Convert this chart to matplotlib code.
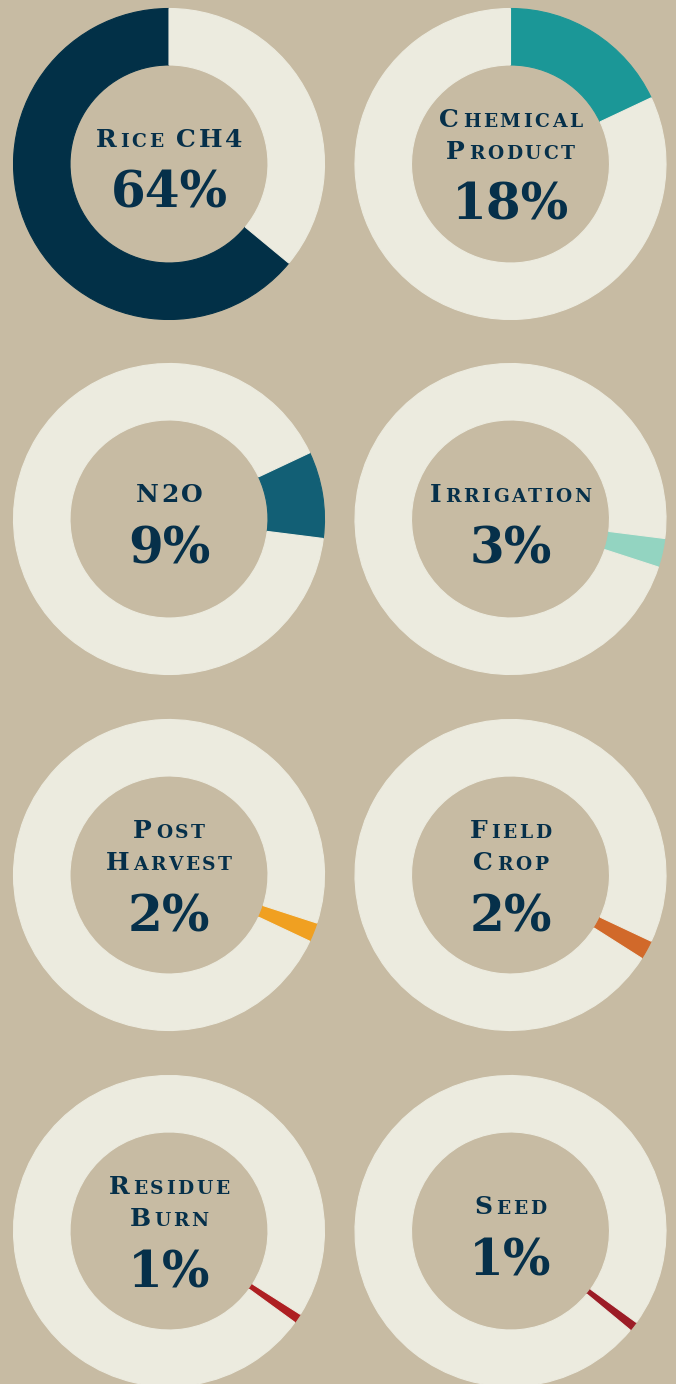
import matplotlib
matplotlib.use("Agg")
import matplotlib.pyplot as plt

# ---------------- data ----------------
categories = ["Rice CH4", "Chemical Product", "N2O", "Irrigation",
              "Post Harvest", "Field Crop", "Residue Burn", "Seed"]
label_lines = [["Rice CH4"], ["Chemical", "Product"], ["N2O"], ["Irrigation"],
               ["Post", "Harvest"], ["Field", "Crop"], ["Residue", "Burn"], ["Seed"]]
shares = [64, 18, 9, 3, 2, 2, 1, 1]
colors = ["#023047", "#1b9797", "#125f75", "#93d4c1",
          "#f0a021", "#d1692a", "#ae1f22", "#9c1c26"]

# ---------------- style / layout ----------------
W, H = 676, 1384
BG = "#c7bba3"
CREAM = "#ecebdf"
TXT = "#06304a"
FONT = "DejaVu Serif"
col_x = [169.0, 510.5]
row_y = [164.0, 519.0, 875.0, 1231.0]   # from top, pixels
R_OUT = 155.5
RING = 56.5
BIG_PT = 18.0
SMALL_PT = 13.4
PCT_PT = 36.0
WEIGHT = "bold"
TRACK = 2.6

fig = plt.figure(figsize=(W / 100, H / 100), dpi=100)
fig.patch.set_facecolor(BG)
ax = fig.add_axes([0, 0, 1, 1])
ax.set_facecolor(BG)

# clockwise order from 12 o'clock: every category after the first, then the first
for i, (s, c) in enumerate(zip(shares, colors)):
    before = sum(shares[1:i]) if i > 0 else sum(shares[1:])
    cx = col_x[i % 2]
    cy = H - row_y[i // 2]
    wedges, _ = ax.pie([s, 100 - s], colors=[c, CREAM],
                       startangle=90 - 3.6 * before, counterclock=False,
                       radius=R_OUT, center=(cx, cy),
                       wedgeprops=dict(width=RING, linewidth=0))
    for w in wedges:
        w.set_edgecolor(w.get_facecolor())
        w.set_linewidth(0.8)

ax.set_xlim(0, W)
ax.set_ylim(0, H)
ax.set_aspect("equal")
ax.axis("off")

renderer = fig.canvas.get_renderer()


def measure(s, size):
    t = ax.text(0, 0, s, fontsize=size, family=FONT, weight=WEIGHT)
    wdt = t.get_window_extent(renderer=renderer).width
    t.remove()
    return wdt


def word_runs(word):
    runs = []
    for ch in word:
        big = not ch.islower()
        if runs and runs[-1][1] == big:
            runs[-1][0] += ch.upper()
        else:
            runs.append([ch.upper(), big])
    return runs


def draw_smallcaps(cx, base_y, line):
    # build a list of placed glyphs: (char, size, x_offset)
    glyphs = []
    x = 0.0
    space = 0.30 * BIG_PT * 100 / 72
    words = line.split(" ")
    for wi, word in enumerate(words):
        runs = word_runs(word)
        for ri, (txt, big) in enumerate(runs):
            size = BIG_PT if big else SMALL_PT
            for k, ch in enumerate(txt):
                left = measure(txt[:k + 1], size) - measure(ch, size)
                glyphs.append((ch, size, x + left + k * TRACK))
            x += measure(txt, size) + (len(txt) - 1) * TRACK
            if ri < len(runs) - 1:
                x += 1.2 + TRACK
        if wi < len(words) - 1:
            x += space + 2 * TRACK
    x0 = cx - x / 2
    for ch, size, off in glyphs:
        ax.text(x0 + off, base_y, ch, fontsize=size, family=FONT,
                weight=WEIGHT, color=TXT, ha="left", va="baseline")


for i, lines in enumerate(label_lines):
    cx = col_x[i % 2]
    cy_top = row_y[i // 2]
    n = len(lines)
    base = cy_top - 17 - 20 * (n - 1)
    for line in lines:
        draw_smallcaps(cx, H - base, line)
        base += 32
    pct_base = base - 32 + 61
    ax.text(cx, H - pct_base, f"{shares[i]}%", fontsize=PCT_PT, family=FONT,
            weight=WEIGHT, color=TXT, ha="center", va="baseline")

fig.savefig("out.png", dpi=100, facecolor=BG)
